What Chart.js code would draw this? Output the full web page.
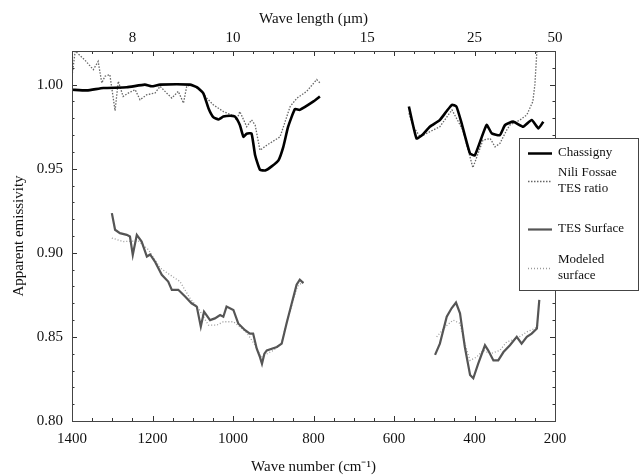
<!DOCTYPE html>
<html><head><meta charset="utf-8">
<script src="https://cdn.jsdelivr.net/npm/chart.js@4/dist/chart.umd.min.js"></script>
<style>html,body{margin:0;padding:0;background:#fff;}#wrap{width:640px;height:476px;}</style>
</head><body><div id="wrap"><canvas id="c" width="640" height="476"></canvas></div>
<script>
// ---- data (wave number in cm-1, apparent emissivity) ----
const chassignyWn = [1400,1363,1322,1264,1219,1202,1181,1107,1090,1074,1061,1049,1036,1024,1007,995,983,974,966,954,945,933,920,904,887,875,863,846,834,800,784,680,563,544,530,511,486,470,456,445,432,411,399,370,357,337,324,304,279,258,241,229];
const chassignyVal = [0.997,0.9966,0.998,0.9984,1.000,0.999,1.000,1.000,0.9985,0.995,0.986,0.9807,0.9793,0.981,0.9815,0.981,0.976,0.969,0.9708,0.971,0.958,0.9494,0.949,0.9514,0.955,0.963,0.975,0.9855,0.985,0.990,0.993,null,0.987,0.968,0.970,0.975,0.979,0.984,0.988,0.987,0.977,0.959,0.958,0.976,0.971,0.970,0.976,0.978,0.975,0.979,0.974,0.978];

const niliWn = [1400,1392,1368,1347,1335,1326,1318,1306,1293,1285,1273,1260,1243,1231,1214,1194,1181,1165,1152,1136,1123,1115,1103,1082,1065,1049,1024,999,991,983,966,954,945,933,916,883,858,841,817,792,784,680,563,552,535,511,486,456,429,404,379,361,349,337,320,312,287,270,255,250,245];
const niliVal = [1.005,1.02,1.0146,1.0089,1.0138,1.001,1.005,1.006,0.9845,1.002,0.993,0.995,0.997,0.991,0.994,0.995,0.999,0.995,0.992,0.996,0.989,0.999,1.000,0.997,0.992,0.988,0.984,0.9815,0.979,0.984,0.975,0.979,0.976,0.961,0.964,0.969,0.987,0.992,0.996,1.003,1.001,null,0.983,0.975,0.969,0.972,0.975,0.985,0.973,0.9506,0.967,0.968,0.963,0.965,0.973,0.976,0.979,0.982,0.990,1.000,1.020];

const tesWn = [1301,1293,1281,1264,1256,1249,1239,1227,1214,1206,1194,1177,1161,1152,1136,1119,1103,1090,1080,1072,1057,1045,1032,1024,1016,999,987,970,958,950,941,933,928,922,916,891,879,867,854,842,834,825,660,498,486,469,457,446,436,424,411,403,391,374,366,353,341,328,312,295,283,270,258,245,239];
const tesVal = [0.9236,0.9137,0.9117,0.9107,0.9097,0.8988,0.9107,0.9067,0.8978,0.899,0.8948,0.8869,0.8829,0.878,0.878,0.874,0.870,0.868,0.8561,0.865,0.860,0.861,0.863,0.862,0.868,0.866,0.858,0.854,0.852,0.852,0.843,0.838,0.834,0.840,0.842,0.844,0.846,0.858,0.870,0.881,0.884,0.882,null,0.8393,0.846,0.862,0.867,0.8704,0.864,0.844,0.8274,0.8254,0.834,0.845,0.842,0.836,0.836,0.841,0.845,0.850,0.846,0.850,0.852,0.855,0.872];

const modelWn = [1301,1273,1235,1210,1181,1157,1132,1107,1086,1061,1040,1024,999,983,966,945,930,915,900,880,865,850,840,825,660,494,473,453,436,424,411,395,378,361,337,320,295,270,250,242];
const modelVal = [0.9088,0.9067,0.907,0.9018,0.891,0.887,0.883,0.873,0.867,0.857,0.857,0.859,0.859,0.856,0.8525,0.845,0.838,0.840,0.842,0.846,0.860,0.872,0.880,0.883,null,0.850,0.856,0.860,0.858,0.846,0.836,0.838,0.842,0.840,0.842,0.847,0.849,0.853,0.855,0.857];

const seriesNames = ['Chassigny','Nili Fossae\nTES ratio','TES Surface','Modeled\nsurface'];
const yTicks = [0.80,0.85,0.90,0.95,1.00];
const xTicks = [1400,1200,1000,800,600,400,200];
const wavelengthTicks = [8,10,15,25,50];

const FONT = '"Liberation Serif","Times New Roman",serif';
function pts(wn, v){ return wn.map((w,i)=>({x:w,y:v[i]})); }

const tickPlugin = {
  id:'innerTicks',
  afterDatasetsDraw(chart){
    const ctx=chart.ctx, a=chart.chartArea, xs=chart.scales.x, ys=chart.scales.y;
    ctx.save(); ctx.strokeStyle='#333'; ctx.lineWidth=1;
    for(let v=200; v<=1400; v+=50){
      const px=Math.round(xs.getPixelForValue(v))+0.5, L=(v%200===0)?5:3;
      ctx.beginPath(); ctx.moveTo(px,a.bottom); ctx.lineTo(px,a.bottom-L);
      ctx.moveTo(px,a.top); ctx.lineTo(px,a.top+L); ctx.stroke();
    }
    for(let k=80;k<=102;k++){
      const v=k/100, py=Math.round(ys.getPixelForValue(v))+0.5, L=(k%5===0)?5:2.5;
      ctx.beginPath(); ctx.moveTo(a.left,py); ctx.lineTo(a.left+L,py);
      ctx.moveTo(a.right,py); ctx.lineTo(a.right-L,py); ctx.stroke();
    }
    ctx.strokeStyle='#444';
    ctx.strokeRect(Math.round(a.left)+0.5,Math.round(a.top)+0.5,Math.round(a.right-a.left),Math.round(a.bottom-a.top));
    ctx.restore();
  }
};

const legendPlugin = {
  id:'boxLegend',
  afterDraw(chart){
    const ctx=chart.ctx;
    const bx=519, by=138, bw=119, bh=152;
    ctx.save();
    ctx.fillStyle='#fff'; ctx.fillRect(bx,by,bw,bh);
    ctx.strokeStyle='#444'; ctx.lineWidth=1; ctx.strokeRect(bx+0.5,by+0.5,bw,bh);
    const rows=[153,181,229,268];
    ctx.font='13px '+FONT; ctx.textBaseline='middle'; ctx.fillStyle='#111';
    chart.data.datasets.forEach((ds,i)=>{
      const y=rows[i];
      ctx.beginPath(); ctx.strokeStyle=ds.borderColor; ctx.lineWidth=Math.min(ds.borderWidth,2.5);
      ctx.setLineDash(ds.borderDash||[]); ctx.moveTo(528,y+0.5); ctx.lineTo(552,y+0.5); ctx.stroke();
      ctx.setLineDash([]);
      const lines=ds.label.split('\n');
      lines.forEach((t,j)=>{ ctx.fillText(t,558,y+(j-(lines.length-1)/2)*16); });
    });
    ctx.restore();
  }
};

new Chart(document.getElementById('c'),{
  type:'line',
  data:{datasets:[
    {label:seriesNames[0],data:pts(chassignyWn,chassignyVal),borderColor:'#000',borderWidth:2.6,pointRadius:0,tension:0.15,spanGaps:false},
    {label:seriesNames[1],data:pts(niliWn,niliVal),borderColor:'#666',borderWidth:1.3,borderDash:[1.5,1.5],pointRadius:0,tension:0,spanGaps:false},
    {label:seriesNames[2],data:pts(tesWn,tesVal),borderColor:'#555',borderWidth:2.2,pointRadius:0,tension:0,spanGaps:false},
    {label:seriesNames[3],data:pts(modelWn,modelVal),borderColor:'#9a9a9a',borderWidth:1.3,borderDash:[1,2],pointRadius:0,tension:0,spanGaps:false}
  ]},
  options:{
    responsive:false, animation:false,
    layout:{padding:{left:10,right:85,top:0,bottom:0}},
    plugins:{legend:{display:false},tooltip:{enabled:false}},
    scales:{
      x:{type:'linear',position:'bottom',reverse:true,min:200,max:1400,
        afterBuildTicks(s){s.ticks=xTicks.map(v=>({value:v}));},
        afterFit(s){s.height=55;},
        grid:{display:false,drawTicks:false},border:{display:false},
        ticks:{color:'#111',padding:9,font:{family:FONT,size:15},maxRotation:0,autoSkip:false,callback:(v)=>String(v)},
        title:{display:true,text:'Wave number (cm\u207B\u00B9)',color:'#111',font:{family:FONT,size:15},padding:{top:4,bottom:0}}},
      x2:{type:'linear',position:'top',reverse:true,min:200,max:1400,
        afterBuildTicks(s){s.ticks=wavelengthTicks.map(v=>({value:10000/v}));},
        afterFit(s){s.height=51;},
        grid:{display:false,drawTicks:false},border:{display:false},
        ticks:{color:'#111',padding:4,font:{family:FONT,size:15},maxRotation:0,autoSkip:false,
          callback:(v)=>String(Math.round(10000/v))},
        title:{display:true,text:'Wave length (\u00B5m)',color:'#111',font:{family:FONT,size:15},padding:{top:10,bottom:2}}},
      y:{type:'linear',min:0.80,max:1.02,
        afterBuildTicks(s){s.ticks=yTicks.map(v=>({value:v}));},
        afterFit(s){s.width=62;},
        grid:{display:false,drawTicks:false},border:{display:false},
        ticks:{color:'#111',padding:9,font:{family:FONT,size:15},callback:(v)=>Number(v).toFixed(2)},
        title:{display:true,text:'Apparent emissivity',color:'#111',font:{family:FONT,size:15},padding:{top:0,bottom:2}}}
    }
  },
  plugins:[tickPlugin,legendPlugin]
});
</script></body></html>
